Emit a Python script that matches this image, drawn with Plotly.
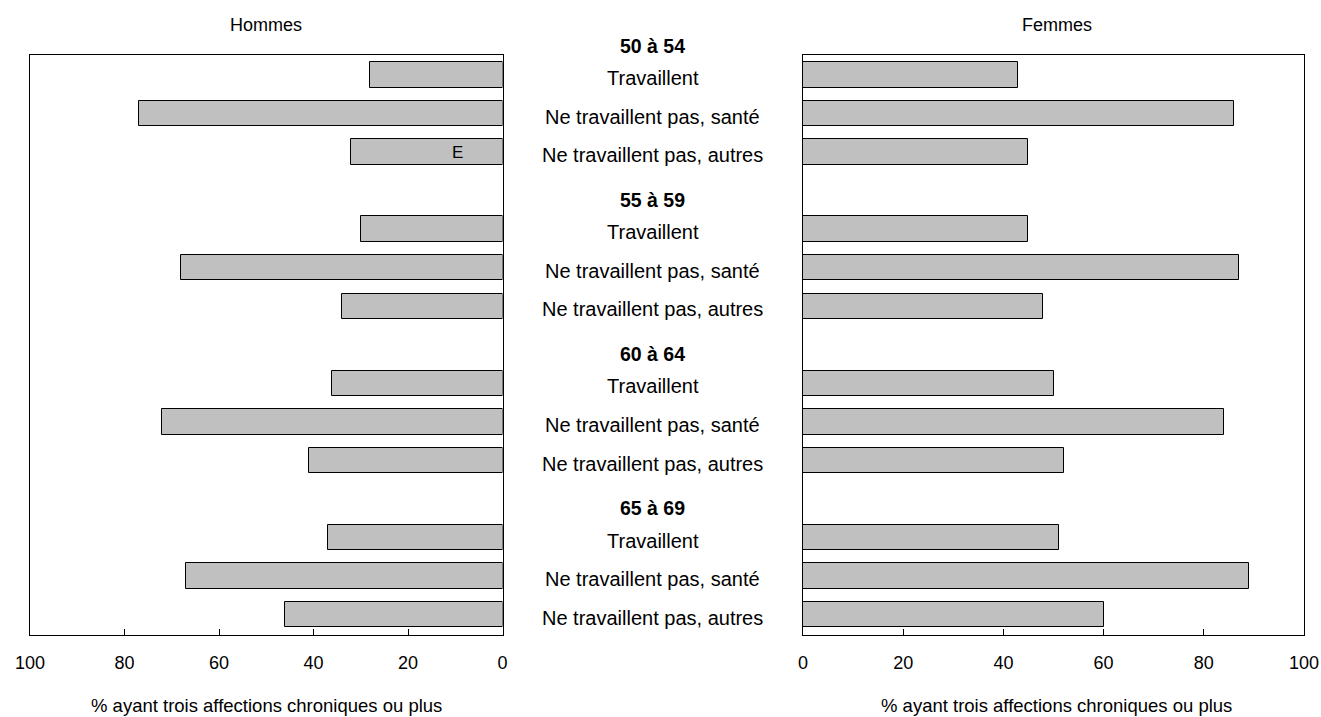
import plotly.graph_objects as go

# ---- data ----
groups = ["50 à 54", "55 à 59", "60 à 64", "65 à 69"]
statuses = ["Travaillent", "Ne travaillent pas, santé", "Ne travaillent pas, autres"]
hommes = [28, 77, 32, 30, 68, 34, 36, 72, 41, 37, 67, 46]
femmes = [43, 86, 45, 45, 87, 48, 50, 84, 52, 51, 89, 60]
hommes_flags = ["", "", "E", "", "", "", "", "", "", "", "", ""]
tick_vals = [0, 20, 40, 60, 80, 100]
panel_titles = ["Hommes", "Femmes"]
axis_title = "% ayant trois affections chroniques ou plus"

# ---- layout helpers ----
W, H = 1321, 717
FONT = "Liberation Sans, Arial, sans-serif"
fill = "#c0c0c0"

rows = []
header_rows = []
for gi, g in enumerate(groups):
    header_rows.append(4 * gi)
    for si, s in enumerate(statuses):
        rows.append(4 * gi + 1 + si)

def px(x):
    return x / W

def py(y):
    return 1 - y / H

ydom = [py(635), py(55)]
yrange = [15.53, 0.48]

def row_paper(r):
    frac = (yrange[0] - r) / (yrange[0] - yrange[1])
    return ydom[0] + frac * (ydom[1] - ydom[0])

fig = go.Figure()
fig.add_trace(go.Bar(
    x=hommes, y=rows, orientation="h", width=0.66,
    marker=dict(color=fill, line=dict(color="black", width=1)),
    xaxis="x", yaxis="y", showlegend=False, hoverinfo="x",
))
fig.add_trace(go.Bar(
    x=femmes, y=rows, orientation="h", width=0.66,
    marker=dict(color=fill, line=dict(color="black", width=1)),
    xaxis="x2", yaxis="y2", showlegend=False, hoverinfo="x",
))

axis_common = dict(
    tickvals=tick_vals, ticks="inside", ticklen=6, tickwidth=1,
    tickcolor="black", showline=True, linecolor="black", linewidth=1,
    mirror=True, showgrid=False, zeroline=False, automargin=False,
    tickfont=dict(family=FONT, size=18, color="black"),
    ticklabelstandoff=11,
)
yaxis_common = dict(
    range=yrange, domain=ydom, showticklabels=False, ticks="",
    showline=True, linecolor="black", linewidth=1, mirror=True,
    showgrid=False, zeroline=False, automargin=False,
)

xa1 = dict(axis_common)
xa1.update(range=[100, 0], domain=[px(30), px(502.5)], anchor="y")
xa2 = dict(axis_common)
xa2.update(range=[0, 100], domain=[px(803), px(1304)], anchor="y2")
ya1 = dict(yaxis_common)
ya1.update(anchor="x")
ya2 = dict(yaxis_common)
ya2.update(anchor="x2")

annotations = []
# panel titles
for t, xc in zip(panel_titles, [266, 1057]):
    annotations.append(dict(text=t, x=px(xc), y=py(25), xref="paper", yref="paper",
                            showarrow=False, xanchor="center", yanchor="middle",
                            font=dict(family=FONT, size=18, color="black")))
# axis titles
for xc, yc in [(266, 705), (1056, 705.5)]:
    annotations.append(dict(text=axis_title, x=px(xc), y=py(yc), xref="paper", yref="paper",
                            showarrow=False, xanchor="center", yanchor="middle",
                            font=dict(family=FONT, size=18.5, color="black")))
# central labels
for gi, g in enumerate(groups):
    annotations.append(dict(text="<b>" + g + "</b>", x=px(652.5), y=row_paper(header_rows[gi] + 0.24),
                            xref="paper", yref="paper", showarrow=False,
                            xanchor="center", yanchor="middle",
                            font=dict(family=FONT, size=19.5, color="black")))
    for si, s in enumerate(statuses):
        annotations.append(dict(text=s, x=px(652.5), y=row_paper(rows[gi * 3 + si] + 0.08),
                                xref="paper", yref="paper", showarrow=False,
                                xanchor="center", yanchor="middle",
                                font=dict(family=FONT, size=20, color="black")))
# flags
for r, v, f in zip(rows, hommes, hommes_flags):
    if f:
        annotations.append(dict(text=f, x=9.5, y=r, xref="x", yref="y", showarrow=False,
                                xanchor="center", yanchor="middle",
                                font=dict(family=FONT, size=17, color="black")))

fig.update_layout(
    width=W, height=H,
    margin=dict(l=0, r=0, t=0, b=0, autoexpand=False),
    paper_bgcolor="white", plot_bgcolor="white",
    xaxis=xa1, xaxis2=xa2, yaxis=ya1, yaxis2=ya2,
    annotations=annotations,
    bargap=0,
)

fig.write_html(
    "out.html",
    config=dict(displayModeBar=False),
    post_script="document.body.style.margin='0px'; document.body.style.overflow='hidden';",
)
